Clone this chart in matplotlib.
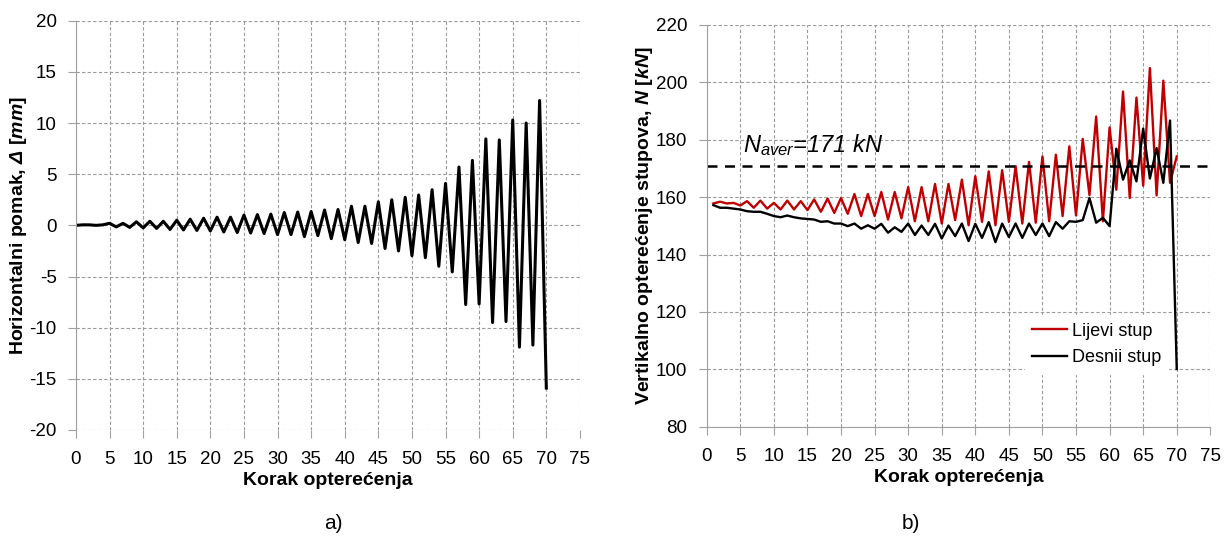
import matplotlib.pyplot as plt
from matplotlib.ticker import MultipleLocator

# Left chart: horizontal displacement per load step
steps_a = list(range(0, 71))
disp = [0.0, 0.05, 0.05, 0.0, 0.05, 0.2, -0.15, 0.2, -0.2, 0.35, -0.25,
        0.4, -0.3, 0.4, -0.4, 0.5, -0.45, 0.6, -0.5, 0.7, -0.55,
        0.8, -0.65, 0.8, -0.7, 1.0, -0.75, 1.05, -0.8, 1.1, -0.9,
        1.25, -0.9, 1.3, -1.1, 1.35, -1.0, 1.5, -1.3, 1.55, -1.4,
        1.87, -1.68, 1.87, -1.77, 2.3, -2.26, 2.5, -2.5, 2.74, -2.97,
        2.97, -3.16, 3.48, -4.0, 4.1, -4.55, 5.7, -7.74, 6.35, -7.68,
        8.45, -9.5, 8.35, -9.4, 10.3, -11.9, 10.0, -11.7, 12.2, -15.9]

# Right chart: vertical column loads
steps_b = list(range(1, 71))
lijevi = [157.8, 158.4, 157.8, 158.0, 157.1, 158.6, 156.3, 158.8, 156.0, 158.0,
          155.7, 158.8, 155.7, 158.6, 155.5, 159.2, 154.9, 159.5, 154.5, 159.7,
          154.2, 161.1, 153.4, 161.1, 153.4, 161.8, 152.2, 161.8, 152.6, 163.5,
          151.6, 163.5, 151.6, 164.6, 150.8, 164.6, 152.0, 166.1, 150.2, 167.3,
          151.4, 169.0, 150.2, 169.4, 151.4, 170.8, 150.8, 172.3, 151.1, 174.2,
          151.6, 174.8, 153.4, 177.7, 153.6, 180.3, 160.7, 188.1, 151.6, 184.3,
          162.6, 196.8, 159.7, 194.7, 164.0, 205.0, 160.6, 200.6, 165.0, 174.2]
desni = [157.2, 156.3, 156.3, 156.0, 155.7, 155.1, 154.9, 154.9, 154.2, 153.4,
         153.0, 153.6, 153.0, 152.6, 152.4, 152.2, 151.4, 151.6, 150.8, 150.8,
         149.9, 150.8, 149.0, 150.2, 149.0, 150.7, 147.6, 149.5, 147.9, 150.8,
         146.8, 150.1, 146.8, 150.7, 145.6, 150.1, 146.4, 150.8, 144.7, 150.7,
         145.8, 151.3, 144.3, 150.8, 146.1, 150.8, 145.8, 150.8, 146.8, 150.8,
         146.4, 151.3, 149.0, 151.6, 151.4, 152.0, 159.7, 151.1, 152.8, 149.9,
         176.9, 166.1, 172.8, 165.5, 183.9, 166.5, 177.1, 165.0, 186.7, 100.1]
n_aver = 171

plt.rcParams['font.family'] = ['Liberation Sans', 'DejaVu Sans']
plt.rcParams['axes.unicode_minus'] = False
plt.rcParams['mathtext.fontset'] = 'custom'
plt.rcParams['mathtext.rm'] = 'Liberation Sans'
plt.rcParams['mathtext.it'] = 'Liberation Sans:italic'
plt.rcParams['mathtext.bf'] = 'Liberation Sans:bold'
plt.rcParams['mathtext.bfit'] = 'Liberation Sans:bold:italic'

fig = plt.figure(figsize=(12.31, 5.41), dpi=100)
ax1 = fig.add_axes([0.0617, 0.2052, 0.4094, 0.7565])
ax2 = fig.add_axes([0.5741, 0.2113, 0.4091, 0.7425])

grid_kw = dict(color='#9a9a9a', linestyle=(0, (3, 2)), linewidth=0.8)

# ---- a) ----
ax1.plot(steps_a, disp, color='black', lw=2.2)
ax1.set_xlim(0, 75)
ax1.set_ylim(-20, 20)
ax1.xaxis.set_major_locator(MultipleLocator(5))
ax1.yaxis.set_major_locator(MultipleLocator(5))
ax1.grid(True, **grid_kw)
for s in ['top', 'right', 'bottom']:
    ax1.spines[s].set_visible(False)
ax1.spines['left'].set_color('#a0a0a0')
ax1.tick_params(labelsize=13.5, color='#a0a0a0', length=6)
ax1.tick_params(axis='x', pad=9)
ax1.tick_params(axis='y', pad=8)
ax1.set_xlabel('Korak opterećenja', fontsize=14, fontweight='bold', labelpad=3)
ax1.set_ylabel(r'Horizontalni pomak, $\mathbfit{\Delta}$ [$\mathbfit{mm}$]',
               fontsize=14, fontweight='bold', labelpad=0)

# ---- b) ----
ax2.plot(steps_b, lijevi, color='#c00000', lw=1.7, label='Lijevi stup')
ax2.plot(steps_b, desni, color='black', lw=1.7, label='Desnii stup')
ax2.axhline(n_aver, color='black', lw=1.8, linestyle=(0, (4, 3)))
ax2.text(5.4, 175.6, r'$N_{aver}$=171 kN', fontsize=17, style='italic',
         ha='left', va='baseline')
ax2.set_xlim(0, 75)
ax2.set_ylim(80, 220)
ax2.xaxis.set_major_locator(MultipleLocator(5))
ax2.yaxis.set_major_locator(MultipleLocator(20))
ax2.grid(True, **grid_kw)
for s in ['top', 'right']:
    ax2.spines[s].set_visible(False)
ax2.spines['left'].set_color('#a0a0a0')
ax2.spines['bottom'].set_color('#a0a0a0')
ax2.tick_params(labelsize=13.5, color='#a0a0a0', length=6)
ax2.tick_params(axis='x', pad=9)
ax2.tick_params(axis='y', pad=8)
ax2.set_xlabel('Korak opterećenja', fontsize=14, fontweight='bold', labelpad=3)
ax2.set_ylabel(r'Vertikalno opterećenje stupova, $\mathbfit{N}$ [$\mathbfit{kN}$]',
               fontsize=14, fontweight='bold', labelpad=0.5)
leg = ax2.legend(loc='lower left', bbox_to_anchor=(0.632, 0.132), fontsize=13,
                 frameon=True, framealpha=1, edgecolor='white', fancybox=False,
                 borderaxespad=0, handlelength=1.9, handletextpad=0.3,
                 labelspacing=0.55)

fig.text(0.2705, 0.033, 'a)', fontsize=15, ha='center', va='center')
fig.text(0.740, 0.033, 'b)', fontsize=15, ha='center', va='center')

fig.savefig('out.png', dpi=100)
